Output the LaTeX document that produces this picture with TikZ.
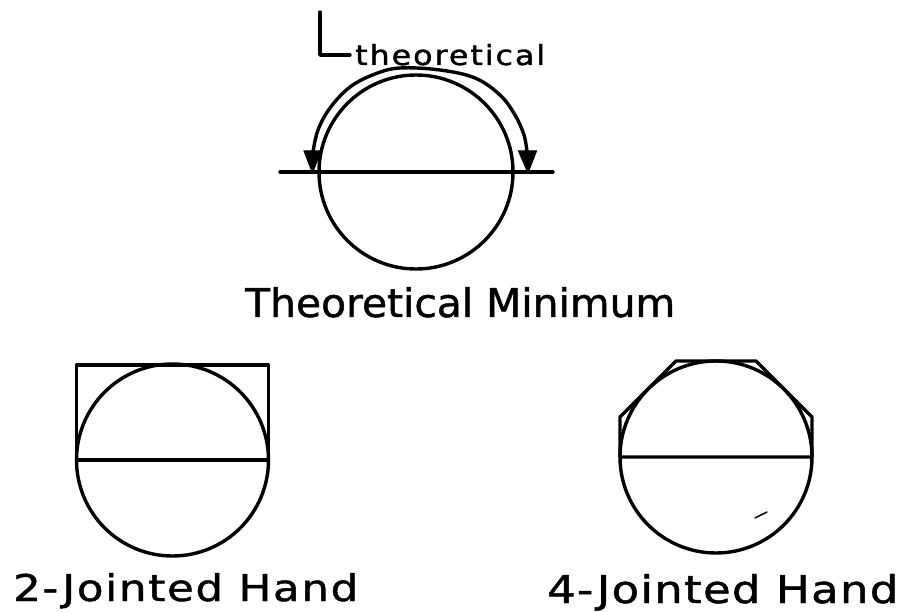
\documentclass[tikz,border=0pt]{standalone}
\usepackage{fontspec}
\usepackage{graphicx}
\setmainfont[FakeBold=1.2]{DejaVu Sans}
\tikzset{
  stroke/.style={line width=3.4pt, line join=round, line cap=round},
  lbl/.style={inner sep=0pt, anchor=base west},
  head/.style={fill=black, draw=black, line width=1pt, line join=miter},
}
\begin{document}
\begin{tikzpicture}[x=1pt,y=-1pt]
\useasboundingbox (0,0) rectangle (906,612);
% ---- Theoretical minimum ----
\coordinate (tc) at (416,172);
\draw[stroke] (tc) circle[radius=97];
\coordinate (tl) at (280,172);
\coordinate (tr) at (553,172);
\draw[stroke] (tl) -- (tr);
\coordinate (al) at (313,152);
\coordinate (ar) at (527,152);
\draw[stroke]
  plot[smooth, tension=0.6] coordinates {(313,152) (318,130) (330,108) (350,87) (375,74) (400,68) (440,70) (475,78) (500,95) (515,115) (524,135) (527,152)};
\fill[head] (304,151) -- (321,151) -- (312.5,173) -- cycle;
\fill[head] (518.5,151) -- (536.5,151) -- (528,173) -- cycle;
% bracket and label
\coordinate (b1) at (320,12);
\coordinate (b2) at (320,55);
\coordinate (b3) at (350,55);
\draw[stroke] (b1) -- (b2) -- (b3);
\node[lbl] (theo) at (355,65) {\resizebox{190pt}{21pt}{\addfontfeature{LetterSpace=6}theoretical}};
\node[lbl] (tmin) at (245,317) {\resizebox{430pt}{30pt}{Theoretical Minimum}};
% ---- 2-jointed hand ----
\coordinate (c2) at (172.5,460);
\draw[stroke] (c2) circle[radius=96];
\draw[stroke] (76.5,460) -- (76.5,365) -- (268.5,365) -- (268.5,460) -- cycle;
\node[lbl] (two) at (13,601) {\resizebox{345pt}{28pt}{\addfontfeature{LetterSpace=4}2-Jointed Hand}};
% ---- 4-jointed hand ----
\coordinate (c4) at (716,457);
\draw[stroke] (c4) circle[radius=96];
\draw[stroke] (620,457) -- (620,417) -- (676,361) -- (756,361) -- (812,417) -- (812,457) -- cycle;
\draw[line width=1.4pt, line cap=round] (755,518) -- (767,512);
\node[lbl] (four) at (547,603) {\resizebox{351pt}{29pt}{\addfontfeature{LetterSpace=3}4-Jointed Hand}};
\end{tikzpicture}
\end{document}
